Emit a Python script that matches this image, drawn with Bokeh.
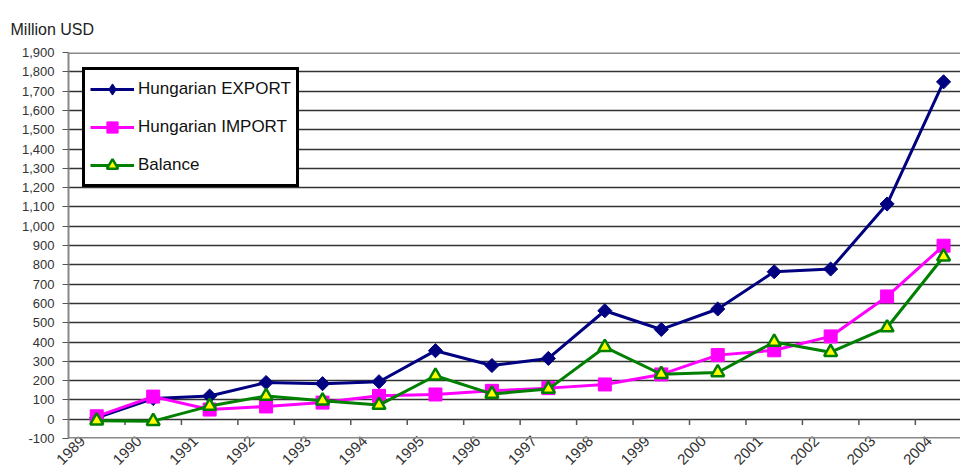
import math
from bokeh.plotting import figure
from bokeh.models import (Range1d, FixedTicker, NumeralTickFormatter, Span,
                          Legend, LegendItem, ColumnDataSource, CustomJSTickFormatter)
from bokeh.embed import file_html
from bokeh.resources import INLINE

years = list(range(1989, 2005))
export_vals = [7, 107, 120, 190, 184, 194, 355, 278, 315, 562, 465, 571, 764, 778, 1115, 1748]
import_vals = [15, 117, 50, 66, 86, 121, 128, 147, 161, 180, 232, 332, 357, 429, 636, 899]
balance_vals = [-8, -10, 68, 120, 96, 73, 225, 131, 156, 373, 233, 242, 400, 347, 475, 842]
y_ticks = list(range(-100, 2000, 100))
FONT = "Liberation Sans"
LABEL_SHIFT = 0.25  # rotated year labels end a little left of each category centre

src = ColumnDataSource(dict(x=years, exp=export_vals, imp=import_vals, bal=balance_vals))

p = figure(width=960, height=473, output_backend="svg", toolbar_location=None,
           x_range=Range1d(1988.5, 2004.3), y_range=Range1d(y_ticks[0], y_ticks[-1]),
           min_border_left=68, min_border_right=0, min_border_top=52, min_border_bottom=35,
           title="Million USD")
p.background_fill_color = "white"
p.border_fill_color = "white"
p.outline_line_color = None

p.title.text_font = FONT
p.title.text_font_size = "16px"
p.title.text_font_style = "normal"
p.title.text_color = "#222222"
p.title.align = "left"
p.title.offset = -58
p.title.standoff = 29

# y axis
p.yaxis.ticker = FixedTicker(ticks=y_ticks)
p.yaxis.formatter = NumeralTickFormatter(format="0,0")
p.yaxis.major_label_text_font = FONT
p.yaxis.major_label_text_font_size = "13px"
p.yaxis.major_label_text_color = "#333333"
p.yaxis.axis_line_color = "#888888"
p.yaxis.axis_line_width = 2
p.yaxis.major_tick_line_color = "#555555"
p.yaxis.major_tick_out = 6
p.yaxis.major_tick_in = 0
p.yaxis.minor_tick_line_color = None
p.yaxis.major_label_standoff = 8

# x axis (year labels only)
p.xaxis.ticker = FixedTicker(ticks=[y - LABEL_SHIFT for y in years])
p.xaxis.formatter = CustomJSTickFormatter(code="return String(Math.round(tick))")
p.xaxis.major_label_orientation = math.pi / 4
p.xaxis.major_label_text_font = FONT
p.xaxis.major_label_text_font_size = "15px"
p.xaxis.major_label_text_color = "#333333"
p.xaxis.axis_line_color = None
p.xaxis.major_tick_line_color = None
p.xaxis.minor_tick_line_color = None
p.xaxis.major_tick_out = 0
p.xaxis.major_tick_in = 0
p.xaxis.minor_tick_out = 0
p.xaxis.minor_tick_in = 0
p.xaxis.major_label_standoff = 0

p.xgrid.grid_line_color = None
p.ygrid.ticker = FixedTicker(ticks=y_ticks)
p.ygrid.grid_line_color = "#333333"
p.ygrid.grid_line_width = 1.5

p.add_layout(Span(location=y_ticks[0], dimension="width", line_color="#888888", line_width=3))
p.add_layout(Span(location=y_ticks[-1], dimension="width", line_color="#888888", line_width=3))

# category boundary ticks on the zero line
bounds = [y - 0.5 for y in years[1:]]
p.segment(x0=bounds, x1=bounds, y0=[0] * len(bounds), y1=[-30] * len(bounds),
          line_color="#555555", line_width=1.5)

l1 = p.line("x", "exp", source=src, line_color="#000080", line_width=3)
m1 = p.scatter("x", "exp", source=src, marker="square", angle=math.pi / 4, size=10,
               fill_color="#000080", line_color="#000080")
# legend proxy for the diamond marker (no visible points)
proxy = p.scatter(x=[float("nan")], y=[float("nan")], marker="diamond", size=17,
                  fill_color="#000080", line_color="#000080")
l2 = p.line("x", "imp", source=src, line_color="#FF00FF", line_width=3)
m2 = p.scatter("x", "imp", source=src, marker="square", size=13,
               fill_color="#FF00FF", line_color="#FF00FF")
l3 = p.line("x", "bal", source=src, line_color="#008000", line_width=3)
m3 = p.scatter("x", "bal", source=src, marker="triangle", size=13,
               fill_color="#FFFF00", line_color="#008000", line_width=2.5)

legend = Legend(items=[
    LegendItem(label="Hungarian EXPORT", renderers=[l1, proxy]),
    LegendItem(label="Hungarian IMPORT", renderers=[l2, m2]),
    LegendItem(label="Balance", renderers=[l3, m3]),
], location=(14, 251))
legend.label_text_font = FONT
legend.label_text_font_size = "17px"
legend.label_text_color = "#111111"
legend.glyph_width = 44
legend.glyph_height = 28
legend.label_height = 28
legend.spacing = 10
legend.padding = 5
legend.margin = 0
legend.label_standoff = 4
legend.border_line_color = "black"
legend.border_line_width = 3
legend.border_line_alpha = 1
legend.background_fill_color = "white"
legend.background_fill_alpha = 1
p.add_layout(legend, "center")

open("out.html", "w").write(file_html(p, INLINE))
